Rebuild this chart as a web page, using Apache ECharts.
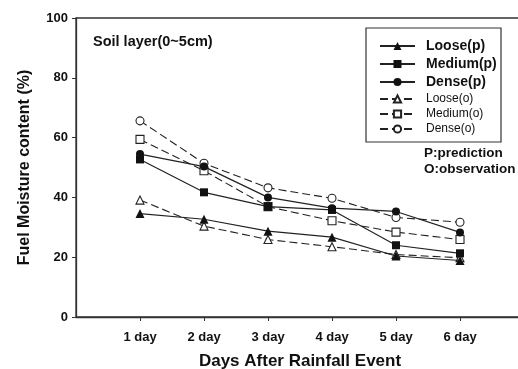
<!DOCTYPE html>
<html>
<head>
<meta charset="utf-8">
<script src="https://cdn.jsdelivr.net/npm/echarts@6/dist/echarts.min.js"></script>
<style>
  html, body { margin: 0; padding: 0; background: #fff; }
  #chart { width: 518px; height: 369px; }
</style>
</head>
<body>
<div id="chart"></div>
<script>
// days after rainfall (x positions) and tick labels
const days = [1, 2, 3, 4, 5, 6];
const dayLabels = ['1 day', '2 day', '3 day', '4 day', '5 day', '6 day'];
const yTicks = [0, 20, 40, 60, 80, 100];

// prediction (solid, filled markers)
const loosePred = [34.6, 32.7, 28.7, 26.7, 20.4, 18.9];
const mediumPred = [52.7, 41.7, 36.9, 35.8, 24.0, 21.3];
const densePred = [54.5, 50.3, 40.0, 36.4, 35.3, 28.3];

// observation (dashed, open markers)
const looseObs = [39.1, 30.4, 25.9, 23.5, 20.9, 19.8];
const mediumObs = [59.4, 48.9, 36.9, 32.2, 28.4, 25.9];
const denseObs = [65.6, 51.4, 43.2, 39.7, 33.3, 31.7];

const font = 'Liberation Sans, Arial, sans-serif';

function pairs(vals) {
  return days.map((d, i) => [d, vals[i]]);
}

function predSeries(name, vals, symbol, size) {
  return {
    name: name,
    type: 'line',
    data: pairs(vals),
    symbol: symbol,
    symbolSize: size,
    itemStyle: { color: '#111', borderColor: '#111', borderWidth: 0 },
    lineStyle: { color: '#222', width: 1.2, type: 'solid' },
    z: 3
  };
}

function obsSeries(name, vals, symbol, size) {
  return {
    name: name,
    type: 'line',
    data: pairs(vals),
    symbol: symbol,
    symbolSize: size,
    itemStyle: { color: '#fff', borderColor: '#222', borderWidth: 1.1 },
    lineStyle: { color: '#222', width: 1.1, type: [8, 4] },
    z: 2
  };
}

const chart = echarts.init(document.getElementById('chart'));

chart.setOption({
  animation: false,
  backgroundColor: '#fff',
  textStyle: { fontFamily: font },
  grid: {
    left: 76, right: -6, top: 18, bottom: 52,
    outerBoundsMode: 'none',
    containLabel: false,
    show: true, borderColor: '#333', borderWidth: 1.3
  },
  xAxis: {
    type: 'value',
    min: 0, max: 7, interval: 1,
    splitLine: { show: false },
    axisLine: { lineStyle: { color: '#333', width: 1.3 } },
    axisTick: { show: true, length: 4, lineStyle: { color: '#333' }, customValues: days },
    axisLabel: {
      customValues: days,
      formatter: v => dayLabels[days.indexOf(v)] || '',
      color: '#111', fontSize: 13, fontWeight: 'bold', margin: 14
    },
    name: 'Days After Rainfall Event',
    nameLocation: 'middle',
    nameGap: 36,
    nameTextStyle: { color: '#111', fontSize: 17, fontWeight: 'bold' }
  },
  yAxis: {
    type: 'value',
    min: 0, max: 100, interval: 20,
    splitLine: { show: false },
    axisLine: { show: true, lineStyle: { color: '#333', width: 1.3 } },
    axisTick: { show: true, length: 4, lineStyle: { color: '#333' } },
    axisLabel: {
      customValues: yTicks,
      color: '#111', fontSize: 13, fontWeight: 'bold', margin: 8
    },
    name: 'Fuel Moisture content (%)',
    nameLocation: 'middle',
    nameGap: 43,
    nameTextStyle: { color: '#111', fontSize: 16, fontWeight: 'bold' }
  },
  legend: [
    {
      orient: 'vertical',
      left: 374, top: 34,
      itemWidth: 35, itemHeight: 10, itemGap: 4,
      textStyle: { color: '#111', fontSize: 14, fontWeight: 'bold', padding: [0, 0, 0, 6] },
      data: ['Loose(p)', 'Medium(p)', 'Dense(p)']
    },
    {
      orient: 'vertical',
      left: 374, top: 88,
      itemWidth: 35, itemHeight: 9, itemGap: 3,
      textStyle: { color: '#111', fontSize: 12, padding: [0, 0, 0, 6] },
      data: ['Loose(o)', 'Medium(o)', 'Dense(o)']
    }
  ],
  graphic: [
    {
      type: 'rect',
      shape: { x: 366, y: 28, width: 135, height: 114 },
      style: { fill: 'none', stroke: '#333', lineWidth: 1.2 },
      z: 10
    },
    {
      type: 'text', left: 93, top: 34,
      style: { text: 'Soil layer(0~5cm)', font: 'bold 14.5px ' + font, fill: '#111' }
    },
    {
      type: 'text', left: 424, top: 145,
      style: { text: 'P:prediction\nO:observation', font: 'bold 13.5px ' + font, lineHeight: 16, fill: '#111' }
    }
  ],
  series: [
    predSeries('Loose(p)', loosePred, 'triangle', 9),
    predSeries('Medium(p)', mediumPred, 'rect', 8),
    predSeries('Dense(p)', densePred, 'circle', 8),
    obsSeries('Loose(o)', looseObs, 'triangle', 8),
    obsSeries('Medium(o)', mediumObs, 'rect', 8),
    obsSeries('Dense(o)', denseObs, 'circle', 8)
  ]
});
</script>
</body>
</html>
